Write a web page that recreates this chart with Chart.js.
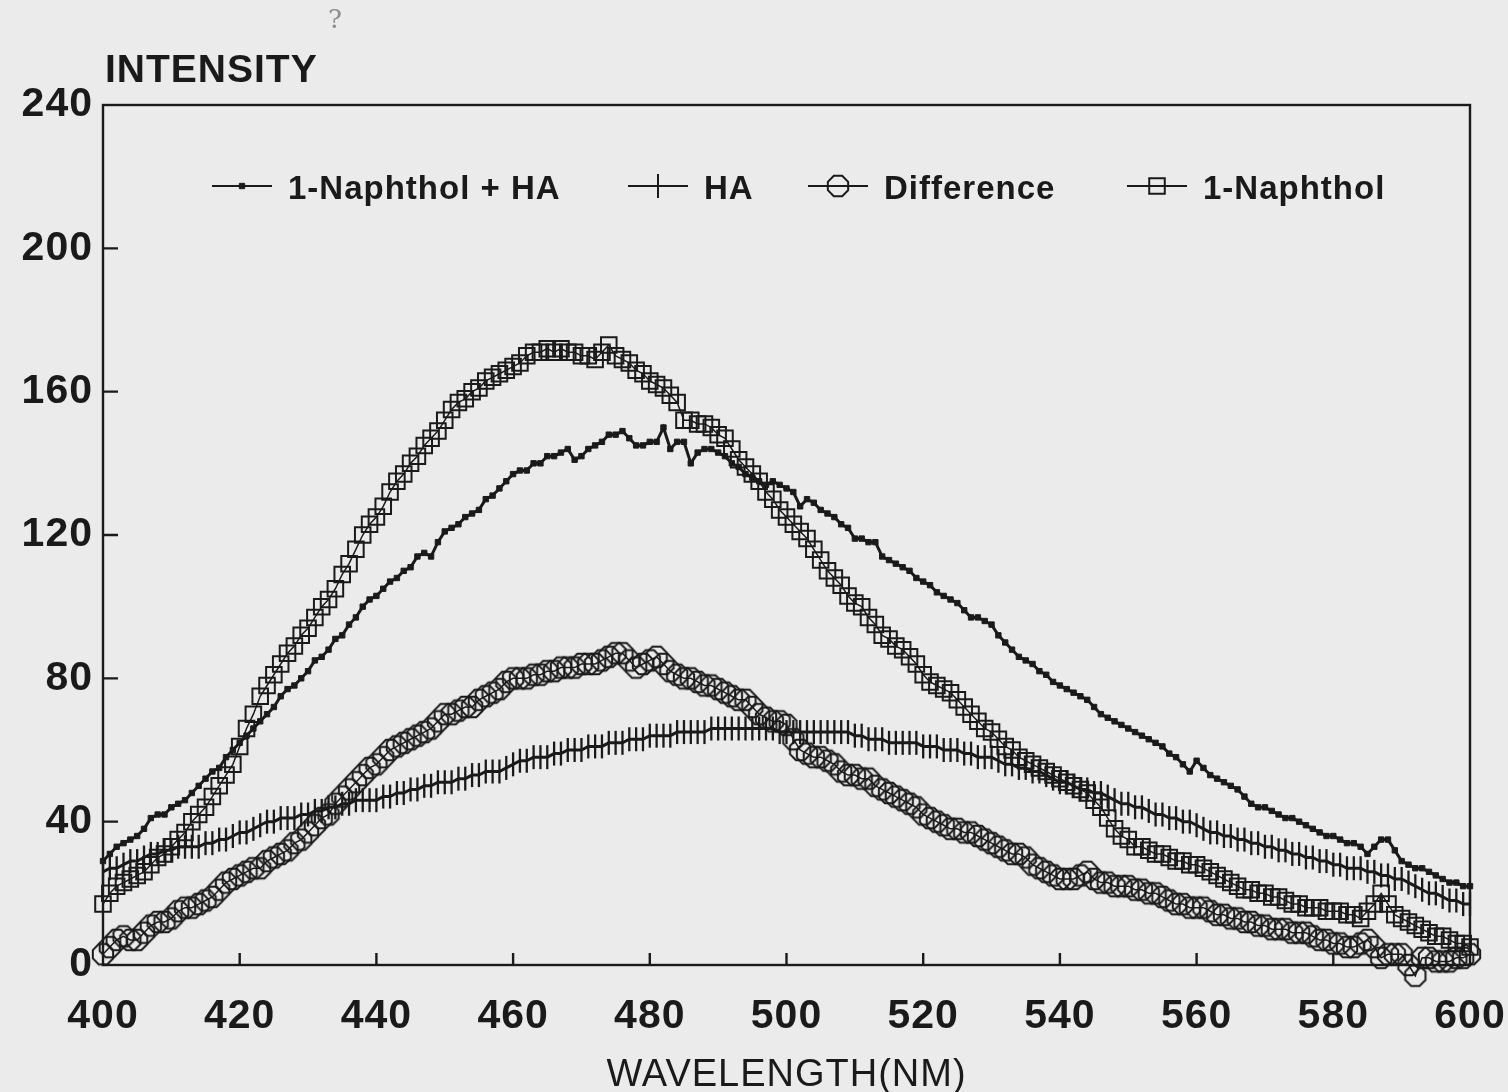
<!DOCTYPE html>
<html>
<head>
<meta charset="utf-8">
<script src="https://cdn.jsdelivr.net/npm/chart.js@4.4.1/dist/chart.umd.min.js"></script>
<style>
html,body{margin:0;padding:0;background:#ebebeb;}
canvas{display:block;}
</style>
</head>
<body>
<canvas id="c" width="1508" height="1092"></canvas>
<script>
// ---------- DATA ----------
const wavelengths = [
400,401,402,403,404,405,406,407,408,409,
410,411,412,413,414,415,416,417,418,419,
420,421,422,423,424,425,426,427,428,429,
430,431,432,433,434,435,436,437,438,439,
440,441,442,443,444,445,446,447,448,449,
450,451,452,453,454,455,456,457,458,459,
460,461,462,463,464,465,466,467,468,469,
470,471,472,473,474,475,476,477,478,479,
480,481,482,483,484,485,486,487,488,489,
490,491,492,493,494,495,496,497,498,499,
500,501,502,503,504,505,506,507,508,509,
510,511,512,513,514,515,516,517,518,519,
520,521,522,523,524,525,526,527,528,529,
530,531,532,533,534,535,536,537,538,539,
540,541,542,543,544,545,546,547,548,549,
550,551,552,553,554,555,556,557,558,559,
560,561,562,563,564,565,566,567,568,569,
570,571,572,573,574,575,576,577,578,579,
580,581,582,583,584,585,586,587,588,589,
590,591,592,593,594,595,596,597,598,599,
600];

const naphtholPlusHA = [
29,31,33,34,35,36,38,41,42,42,
44,45,46,48,50,52,54,55,58,60,
62,64,66,68,70,72,75,77,78,80,
82,85,86,88,91,92,95,97,100,102,
103,105,107,108,110,111,114,115,114,118,
121,122,123,125,126,127,130,131,133,135,
137,138,138,140,140,142,142,143,144,141,
142,144,145,146,148,148,149,147,145,145,
146,146,150,144,146,146,140,143,144,144,
143,142,140,139,137,136,135,134,135,134,
133,132,128,130,129,127,126,125,123,122,
119,119,118,118,114,113,112,111,110,108,
107,106,104,103,102,101,99,97,97,96,
95,92,90,88,86,85,84,82,81,79,
78,77,76,75,74,72,70,69,68,67,
66,65,64,63,62,61,59,58,56,54,
57,55,53,52,51,50,49,47,45,44,
44,43,42,41,41,40,39,38,37,36,
36,35,34,34,33,31,33,35,35,32,
29,28,27,27,26,25,24,23,23,22,
22];

const haOnly = [
26,27,27,28,29,29,30,31,31,32,
32,33,33,33,33,34,34,35,35,36,
37,37,38,39,40,40,41,41,41,42,
42,43,43,44,44,45,45,46,46,46,
46,47,47,48,48,49,49,50,50,51,
51,51,52,52,53,53,54,54,54,55,
56,57,57,58,58,58,59,59,60,60,
60,61,61,61,62,62,62,63,63,63,
64,64,64,64,65,65,65,65,65,66,
66,66,66,66,66,66,66,66,66,65,
65,65,65,65,65,65,65,65,65,65,
64,64,63,63,63,62,62,62,62,62,
61,61,61,60,60,60,59,59,58,58,
58,57,56,56,55,55,54,54,53,52,
51,51,50,49,49,48,48,47,46,45,
45,44,44,43,42,42,41,41,40,40,
39,38,37,37,36,36,35,35,34,34,
33,33,32,32,31,31,30,30,29,29,
28,28,27,27,27,26,26,25,25,24,
24,23,22,21,20,20,19,18,18,17,
17];

const difference = [
3,5,7,8,7,7,9,11,12,12,
13,15,16,16,17,18,19,21,23,24,
25,26,27,27,29,30,31,32,34,35,
37,39,41,42,45,47,49,51,53,55,
56,58,60,61,62,63,64,65,66,68,
70,70,71,72,72,74,75,76,77,79,
80,80,80,81,81,82,82,83,83,83,
84,84,84,85,86,87,87,85,83,84,
85,86,84,82,81,80,80,79,78,78,
77,76,75,74,74,72,70,69,68,68,
67,63,60,59,58,58,57,56,54,53,
53,52,52,50,49,48,47,46,45,44,
42,41,40,39,38,38,37,37,36,35,
34,33,32,31,31,30,28,27,26,25,
24,24,24,25,26,24,23,23,22,22,
22,21,21,20,20,19,18,17,17,16,
16,16,15,14,14,13,13,12,12,11,
11,10,10,10,9,9,9,8,7,7,
6,6,5,5,6,7,5,2,3,3,
3,0,-3,2,2,1,1,1,2,2,
3];

const naphthol = [
17,20,22,23,24,25,26,28,30,31,
33,35,37,40,42,44,47,50,53,56,
61,66,70,75,78,81,84,87,89,92,
94,97,100,102,105,109,112,116,120,123,
125,128,132,135,137,140,142,145,147,149,
152,155,157,158,160,161,163,164,165,166,
167,168,170,171,171,172,171,172,171,171,
170,170,169,171,173,170,169,168,166,165,
163,162,161,159,157,152,152,151,151,150,
148,147,144,141,139,137,135,132,130,127,
125,123,121,119,116,113,110,108,106,103,
101,100,97,95,92,91,89,88,86,84,
81,79,78,77,76,74,72,70,68,66,
65,63,61,60,58,57,56,55,54,53,
52,51,50,49,48,46,44,41,38,36,
35,33,33,32,31,31,30,29,29,28,
28,27,26,25,24,23,22,21,21,20,
20,19,19,18,17,17,16,16,16,15,
15,15,14,14,13,15,17,20,17,14,
13,12,11,10,9,8,8,7,6,6,
5];

const seriesNames = ['1-Naphthol + HA', 'HA', 'Difference', '1-Naphthol'];
const xTickValues = [400, 420, 440, 460, 480, 500, 520, 540, 560, 580, 600];
const yTickValues = [0, 40, 80, 120, 160, 200, 240];
const xTitle = 'WAVELENGTH(NM)';
const yTitle = 'INTENSITY';

// ---------- STYLE ----------
const INK = '#1a1a1a';
const FONT = '"Liberation Sans", Arial, Helvetica, sans-serif';

function makeOctagon(r, lw) {
  const s = Math.ceil(2 * r + lw + 4);
  const c = document.createElement('canvas');
  c.width = s; c.height = s;
  const g = c.getContext('2d');
  g.strokeStyle = INK; g.lineWidth = lw;
  g.beginPath();
  for (let k = 0; k < 8; k++) {
    const a = Math.PI / 8 + k * Math.PI / 4;
    const px = s / 2 + r * Math.cos(a), py = s / 2 + r * Math.sin(a);
    if (k) g.lineTo(px, py); else g.moveTo(px, py);
  }
  g.closePath(); g.stroke();
  return c;
}
const octagon = makeOctagon(11, 2);

function pts(arr) { return wavelengths.map((w, i) => ({ x: w, y: arr[i] })); }

const datasets = [
  { label: seriesNames[0], data: pts(naphtholPlusHA), borderColor: INK, borderWidth: 3,
    pointStyle: 'rect', pointRadius: 3.8, pointBackgroundColor: INK, pointBorderColor: INK, pointBorderWidth: 1, clip: false },
  { label: seriesNames[1], data: pts(haOnly), borderColor: INK, borderWidth: 3,
    pointStyle: 'line', pointRotation: 90, pointRadius: 12, pointBorderColor: INK, pointBorderWidth: 2.3, clip: false },
  { label: seriesNames[2], data: pts(difference), borderColor: INK, borderWidth: 1.5,
    pointStyle: octagon, pointRadius: 11, clip: false },
  { label: seriesNames[3], data: pts(naphthol), borderColor: INK, borderWidth: 1.5,
    pointStyle: 'rect', pointRadius: 11, pointBackgroundColor: 'rgba(0,0,0,0)', pointBorderColor: INK, pointBorderWidth: 2, clip: false }
];

const legendLayout = [212, 628, 808, 1127];

const decorations = {
  id: 'decorations',
  beforeDraw(chart) {
    try { chart.ctx.letterSpacing = '1px'; } catch (e) {}
  },
  beforeDatasetsDraw(chart) {
    const { ctx, chartArea: a, scales: { x, y } } = chart;
    try { ctx.letterSpacing = '0px'; } catch (e) {}
    ctx.save();
    ctx.strokeStyle = INK; ctx.lineWidth = 2.4;
    ctx.strokeRect(a.left, a.top, a.right - a.left, a.bottom - a.top);
    ctx.beginPath();
    xTickValues.slice(1, -1).forEach(v => { const px = x.getPixelForValue(v); ctx.moveTo(px, a.bottom); ctx.lineTo(px, a.bottom - 12); });
    yTickValues.slice(1, -1).forEach(v => { const py = y.getPixelForValue(v); ctx.moveTo(a.left, py); ctx.lineTo(a.left + 15, py); });
    ctx.stroke();
    ctx.restore();
  },
  afterDraw(chart) {
    const { ctx, chartArea: a } = chart;
    ctx.save();
    ctx.fillStyle = INK;
    ctx.font = 'bold 39px ' + FONT;
    try { ctx.letterSpacing = '1px'; } catch (e) {}
    ctx.textAlign = 'left'; ctx.textBaseline = 'alphabetic';
    ctx.fillText(yTitle, a.left + 2, 82);
    try { ctx.letterSpacing = '0px'; } catch (e) {}
    ctx.fillStyle = '#8c8c8c';
    ctx.font = '26px "DejaVu Serif", serif';
    ctx.fillText('?', 328, 28);
    // legend
    const ly = 186;
    ctx.font = 'bold 33px ' + FONT;
    try { ctx.letterSpacing = '1px'; } catch (e) {}
    chart.data.datasets.forEach((ds, i) => {
      const x0 = legendLayout[i], x1 = x0 + 60, xc = (x0 + x1) / 2;
      ctx.strokeStyle = INK; ctx.lineWidth = 2;
      ctx.beginPath(); ctx.moveTo(x0, ly); ctx.lineTo(x1, ly); ctx.stroke();
      if (ds.pointStyle === 'rect') {
        ctx.save();
        ctx.fillStyle = ds.pointBackgroundColor; ctx.strokeStyle = INK; ctx.lineWidth = ds.pointBorderWidth;
        const s = Math.SQRT1_2 * ds.pointRadius;
        ctx.beginPath(); ctx.rect(xc - s, ly - s, 2 * s, 2 * s); ctx.fill(); ctx.stroke();
        ctx.restore();
      } else if (ds.pointStyle === 'line') {
        ctx.beginPath(); ctx.moveTo(xc, ly - 12); ctx.lineTo(xc, ly + 12); ctx.stroke();
      } else {
        Chart.helpers.drawPoint(ctx, { pointStyle: ds.pointStyle, rotation: 0, radius: ds.pointRadius, borderWidth: 1 }, xc, ly);
      }
      ctx.fillStyle = INK; ctx.textBaseline = 'middle';
      ctx.fillText(ds.label, x1 + 16, ly + 4);
    });
    ctx.restore();
  }
};

new Chart(document.getElementById('c'), {
  type: 'line',
  data: { datasets },
  options: {
    responsive: false,
    animation: false,
    events: [],
    layout: { padding: { left: 0, right: 38, top: 105, bottom: 0 } },
    elements: { line: { tension: 0, fill: false } },
    plugins: { legend: { display: false }, tooltip: { enabled: false } },
    scales: {
      x: {
        type: 'linear', min: 400, max: 600,
        afterBuildTicks: s => { s.ticks = xTickValues.map(v => ({ value: v })); },
        afterFit: s => { s.height = 127; s.paddingLeft = 0; s.paddingRight = 0; },
        grid: { display: false, drawTicks: false },
        border: { display: false },
        ticks: { color: INK, font: { family: FONT, size: 41, weight: 'bold' }, padding: 27, maxRotation: 0, autoSkip: false },
        title: { display: true, text: xTitle, color: INK, font: { family: FONT, size: 38, lineHeight: 0.85 }, padding: { top: 0, bottom: 0 } }
      },
      y: {
        type: 'linear', min: 0, max: 240,
        afterBuildTicks: s => { s.ticks = yTickValues.map(v => ({ value: v })); },
        afterFit: s => { s.width = 103; s.paddingTop = 0; s.paddingBottom = 0; },
        grid: { display: false, drawTicks: false },
        border: { display: false },
        ticks: { color: INK, font: { family: FONT, size: 41, weight: 'bold' }, padding: 10 }
      }
    }
  },
  plugins: [decorations]
});
</script>
</body>
</html>
